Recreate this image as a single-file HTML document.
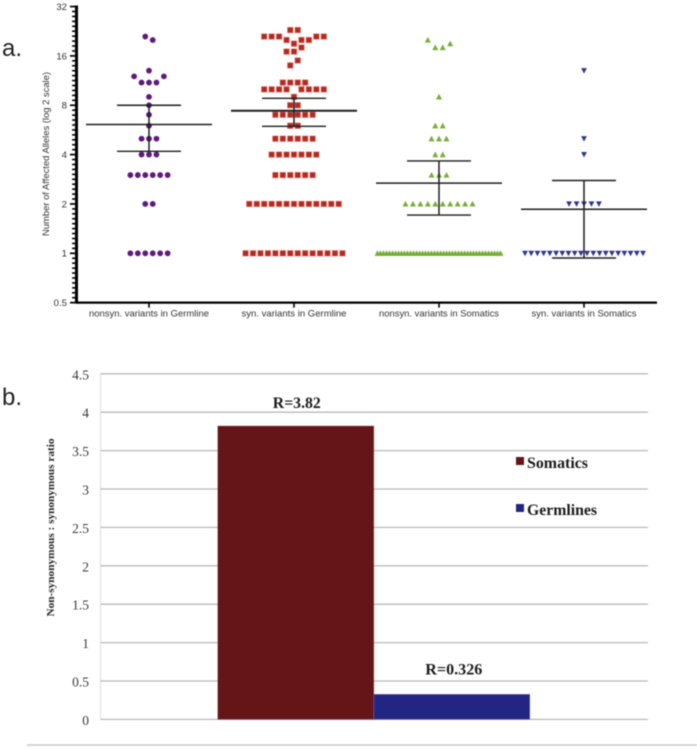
<!DOCTYPE html>
<html lang="en">
<head>
<meta charset="utf-8">
<title>Affected alleles and non-synonymous ratio</title>
<style>
html,body{margin:0;padding:0;background:#fff;width:697px;height:749px;overflow:hidden}
svg{display:block;filter:blur(0.45px)}
.sans{font-family:"Liberation Sans",sans-serif}
.serif{font-family:"Liberation Serif",serif}
</style>
</head>
<body>
<svg id="figure" xmlns="http://www.w3.org/2000/svg" width="697" height="749" viewBox="0 0 697 749">
  <rect x="0" y="0" width="697" height="749" fill="#fff"/>
  <text class="sans" x="2" y="56" font-size="24" fill="#222">a.</text>
  <text class="sans" x="2" y="405" font-size="24" fill="#222">b.</text>
  <g id="panelA"></g>
  <g id="panelB"></g>
  <line x1="27" x2="697" y1="745" y2="745" stroke="#c9c9c9" stroke-width="1.4"/>
</svg>
<script>
/* ---------- panel a data ---------- */
const scatterCategories = ["nonsyn. variants in Germline", "syn. variants in Germline", "nonsyn. variants in Somatics", "syn. variants in Somatics"];
const scatterTickLabels = ["0.5", "1", "2", "4", "8", "16", "32"];
const scatterTickValues = [0.5, 1, 2, 4, 8, 16, 32];

/* Each inner array is one swarm row; null leaves an empty slot in the row. */
const germlineNonsynRows = [
  [21, 20],
  [12, null, 13, null, 12],
  [11, 11, 11],
  [9], [8], [7], [6],
  [5, 5, 5],
  [4, 4, 4],
  [3, 3, 3, 3, 3, 3],
  [2, 2],
  [1, 1, 1, 1, 1, 1]
];
const germlineSynRows = [
  [23, 23],
  [21, 21, 21, 20, 19, 20, 20, 21, 21],
  [17, 17, 18],
  [14, 15],
  [11, 11, 11, 11],
  [10, 10, 10, 10, null, 10, 10, 10, 10],
  [9],
  [8, 8],
  [7, 7, 7, 7, 7, 7],
  [6, 6],
  [5, 5, 5, 5, 5, 5],
  [4, 4, 4, 4, 4, 4, 4],
  [3, 3, 3, 3, 3, 3],
  [2, 2, 2, 2, 2, 2, 2, 2, 2, 2, 2, 2, 2],
  [1, 1, 1, 1, 1, 1, 1, 1, 1, 1, 1, 1, 1, 1]
];
const somaticNonsynRows = [
  [20, 18, 18, 19],
  [9],
  [6, 6],
  [5, 5, 5],
  [4, 4],
  [3, 3, 3],
  [2, 2, 2, 2, 2, 2, 2, 2, 2, 2],
  [1, 1, 1, 1, 1, 1, 1, 1, 1, 1, 1, 1, 1, 1, 1, 1, 1, 1, 1, 1, 1, 1, 1, 1, 1, 1, 1, 1, 1, 1, 1, 1, 1, 1, 1, 1, 1, 1, 1, 1, 1, 1]
];
const somaticSynRows = [
  [13],
  [5],
  [4],
  [2, 2, 2, 2, 2],
  [1, 1, 1, 1, 1, 1, 1, 1, 1, 1, 1, 1, 1, 1, 1, 1, 1, 1, 1, 1]
];
const scatterMeans = [6.1, 7.41, 2.68, 1.855];
const scatterUpper = [8.0, 8.82, 3.66, 2.78];
const scatterLower = [4.19, 5.95, 1.71, 0.936];

/* ---------- panel b data ---------- */
const ratioCategories = ["Somatics", "Germlines"];
const ratioValues = [3.82, 0.326];
const ratioPrinted = ["R=3.82", "R=0.326"];
const ratioTickValues = [0, 0.5, 1, 1.5, 2, 2.5, 3, 3.5, 4, 4.5];
const ratioTickLabels = ["0", "0.5", "1", "1.5", "2", "2.5", "3", "3.5", "4", "4.5"];

/* ---------- helpers ---------- */
const NS = "http://www.w3.org/2000/svg";
function mk(parent, tag, attrs, txt) {
  const el = document.createElementNS(NS, tag);
  for (const k in attrs) el.setAttribute(k, attrs[k]);
  if (txt !== undefined) el.textContent = txt;
  parent.appendChild(el);
  return el;
}

/* ---------- panel a ---------- */
const A = document.getElementById("panelA");
const yA = v => 253.3 - 49.35 * Math.log2(v);
const xA = i => 149 + 145 * i;
const axisX = 76.5;

const yAxisLine = mk(A, "line", {x1: axisX, x2: axisX, y1: yA(32) - 1, y2: yA(0.5) + 1, stroke: "#000", "stroke-width": 3});


const xAxisLine = mk(A, "line", {x1: axisX, x2: 657, y1: yA(0.5), y2: yA(0.5), stroke: "#000", "stroke-width": 2.2});



const minorPerOctave = 10;
for (let t = 0; t < scatterTickValues.length; t++) {
  const v = scatterTickValues[t];
  const major = mk(A, "line", {x1: axisX - 6.5, x2: axisX, y1: yA(v), y2: yA(v), stroke: "#000", "stroke-width": 1.7});
  
  
  const label = mk(A, "text", {x: 67, y: yA(v) + 3.4, "text-anchor": "end", "font-size": 9.6, fill: "#333", class: "sans"}, scatterTickLabels[t]);
  
  
  if (t < scatterTickValues.length - 1) {
    for (let m = 1; m < minorPerOctave; m++) {
      const my = yA(v) - (yA(v) - yA(scatterTickValues[t + 1])) * m / minorPerOctave;
      const minor = mk(A, "line", {x1: axisX - 4.4, x2: axisX, y1: my, y2: my, stroke: "#000", "stroke-width": 1.6});
      
      
    }
  }
}
const yTitleA = mk(A, "text", {x: 0, y: 0, transform: "translate(49,154) rotate(-90)", "text-anchor": "middle", "font-size": 9.4, fill: "#333", class: "sans", textLength: 164, lengthAdjust: "spacingAndGlyphs"}, "Number of Affected Alleles (log 2 scale)");



const catWidths = [120, 105, 120, 105];
scatterCategories.forEach((c, i) => {
  const tick = mk(A, "line", {x1: xA(i), x2: xA(i), y1: yA(0.5), y2: yA(0.5) + 5, stroke: "#000", "stroke-width": 1.6});
  
  
  const lab = mk(A, "text", {x: xA(i), y: 316.3, "text-anchor": "middle", "font-size": 9.4, fill: "#333", class: "sans", textLength: catWidths[i], lengthAdjust: "spacingAndGlyphs"}, c);
  
  
});

function marker(g, shape, x, y, color) {
  if (shape === "circle") return mk(g, "circle", {cx: x, cy: y, r: 2.9, fill: color});
  if (shape === "square") return mk(g, "rect", {x: x - 2.9, y: y - 2.9, width: 5.8, height: 5.8, fill: color, stroke: "#e9a8a2", "stroke-width": 0.6});
  if (shape === "up") return mk(g, "polygon", {points: (x - 3) + "," + (y + 2.6) + " " + x + "," + (y - 3.1) + " " + (x + 3) + "," + (y + 2.6), fill: color});
  return mk(g, "polygon", {points: (x - 2.9) + "," + (y - 2.6) + " " + (x + 2.9) + "," + (y - 2.6) + " " + x + "," + (y + 2.9), fill: color});
}

const seriesRows = [germlineNonsynRows, germlineSynRows, somaticNonsynRows, somaticSynRows];
const seriesShape = ["circle", "square", "up", "down"];
const seriesColor = ["#5f1a7e", "#b32a22", "#78ad3a", "#30358f"];
const seriesMaxWidth = [125, 125, 123, 118];
const seriesName = ["germline-nonsyn", "germline-syn", "somatic-nonsyn", "somatic-syn"];
const baseSlot = 7.45;

seriesRows.forEach((rows, s) => {
  const g = mk(A, "g", {});
  
  
  rows.forEach(row => {
    const n = row.length;
    const slot = n > 1 ? Math.min(baseSlot, seriesMaxWidth[s] / (n - 1)) : baseSlot;
    row.forEach((v, k) => {
      if (v === null) return;
      const x = xA(s) + (k - (n - 1) / 2) * slot;
      const pt = marker(g, seriesShape[s], x, yA(v), seriesColor[s]);
      
      
    });
  });
  const eb = mk(A, "g", {stroke: "#1e1e1e", fill: "none"});
  
  
  const cx = xA(s);
  const meanW = s === 1 ? 2 : 1.5;
  const mean = mk(eb, "line", {x1: cx - 63, x2: cx + 63, y1: yA(scatterMeans[s]), y2: yA(scatterMeans[s]), "stroke-width": meanW});
  
  
  const stem = mk(eb, "line", {x1: cx, x2: cx, y1: yA(scatterUpper[s]), y2: yA(scatterLower[s]), "stroke-width": 1.5});
  
  
  const up = mk(eb, "line", {x1: cx - 32, x2: cx + 32, y1: yA(scatterUpper[s]), y2: yA(scatterUpper[s]), "stroke-width": 1.4});
  
  
  const lo = mk(eb, "line", {x1: cx - 32, x2: cx + 32, y1: yA(scatterLower[s]), y2: yA(scatterLower[s]), "stroke-width": 1.4});
  
  
});

/* ---------- panel b ---------- */
const B = document.getElementById("panelB");
const yB = v => 719.4 - 76.8 * v;
const plotL = 100.5, plotR = 648;
const barX = i => 217.8 + 156 * i;
const barW = 156;
const barColor = ["#651518", "#232583"];
const barEdge = ["#8a5558", "#6f71b0"];

ratioTickValues.forEach((v, i) => {
  const grid = mk(B, "line", {x1: plotL, x2: plotR, y1: yB(v), y2: yB(v), stroke: "#b9b9b9", "stroke-width": 1.3});
  
  
  const lab = mk(B, "text", {x: 89, y: yB(v) + 5.5, "text-anchor": "end", "font-size": 13.5, fill: "#3a3a3a", class: "serif"}, ratioTickLabels[i]);
  
  
});
const yAxisB = mk(B, "line", {x1: plotL, x2: plotL, y1: yB(4.5), y2: yB(0), stroke: "#d6d6d6", "stroke-width": 0.8});



const labelWidths = [48, 57];
ratioValues.forEach((v, i) => {
  const bar = mk(B, "rect", {x: barX(i), y: yB(v), width: barW, height: yB(0) - yB(v), fill: barColor[i], stroke: barEdge[i], "stroke-width": 0.5});
  
  
  const val = mk(B, "text", {x: barX(i) + barW / 2 + (i === 0 ? 1 : 2), y: yB(v) - (i === 0 ? 18 : 20), "text-anchor": "middle", "font-size": 16, "font-weight": "bold", fill: "#1c1c1c", class: "serif", textLength: labelWidths[i], lengthAdjust: "spacingAndGlyphs"}, ratioPrinted[i]);
  
  
});

const legendTop = [457, 504];
const legendWidths = [61, 70];
ratioCategories.forEach((c, i) => {
  const sw = mk(B, "rect", {x: 516, y: legendTop[i], width: 8, height: 8, fill: barColor[i]});
  
  
  const t = mk(B, "text", {x: 527, y: legendTop[i] + 11, "font-size": 16, "font-weight": "bold", fill: "#1c1c1c", class: "serif", textLength: legendWidths[i], lengthAdjust: "spacingAndGlyphs"}, c);
  
  
});

const yTitleB = mk(B, "text", {x: 0, y: 0, transform: "translate(54,527.5) rotate(-90)", "text-anchor": "middle", "font-size": 10.5, "font-weight": "bold", fill: "#2a2a2a", class: "serif", textLength: 178, lengthAdjust: "spacingAndGlyphs"}, "Non-synonymous : synonymous ratio");


</script>
</body>
</html>
